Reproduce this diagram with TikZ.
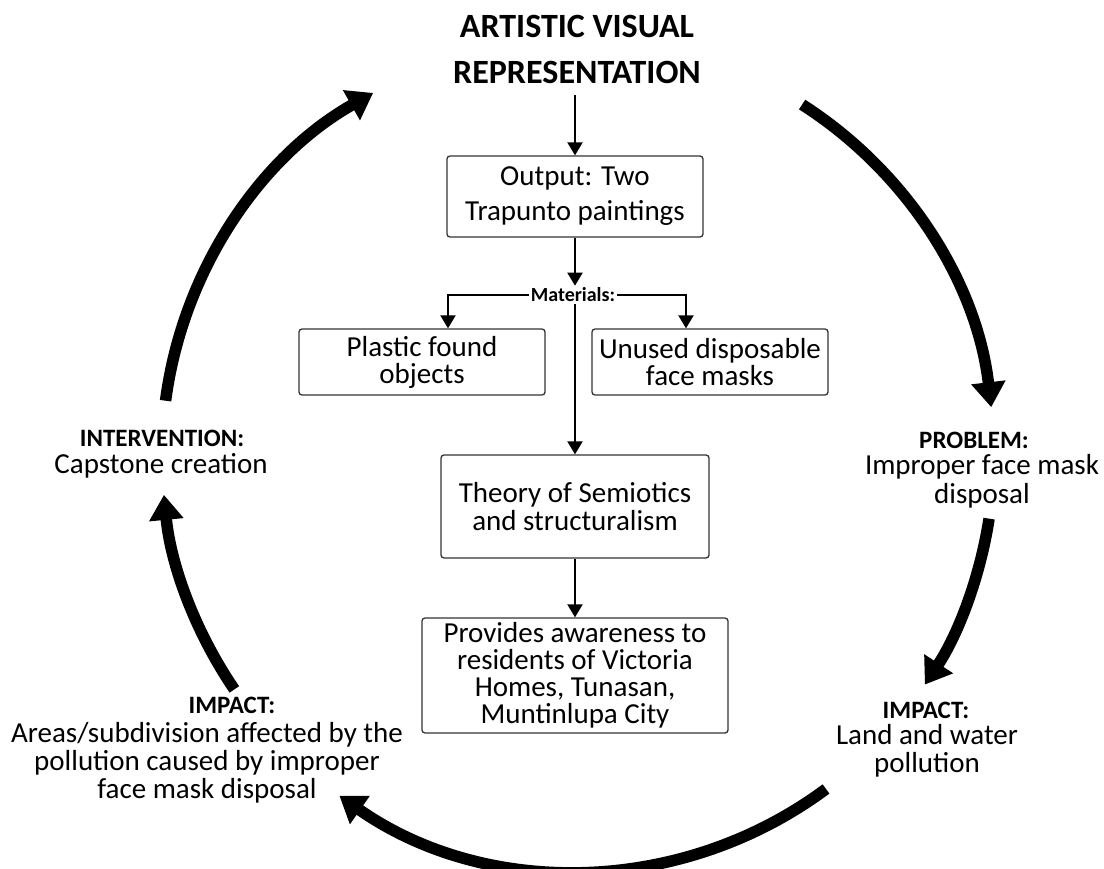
\documentclass[tikz,border=0pt]{standalone}
\usepackage{fontspec}
\setmainfont{Carlito}
\usetikzlibrary{arrows.meta,calc}
\begin{document}
\begin{tikzpicture}[x=1pt,y=1pt,
  box/.style={draw=black!80, line width=1.3pt, rounded corners=3pt, align=center, inner sep=0pt},
  body/.style={font=\fontsize{29}{#1}\selectfont},
  body/.default=28,
  hdr/.style={font=\bfseries\fontsize{25}{28}\selectfont, inner sep=0pt},
  lbl/.style={align=center, inner sep=0pt},
  arr/.style={line width=2pt, -{Triangle[length=13pt,width=15pt]}},
  big/.style={line width=11.5pt, -{Triangle[length=25pt,width=33pt]}}
]
\useasboundingbox (0,0) rectangle (1104,-869);
% title
\node[font=\bfseries\fontsize{34}{46}\selectfont, align=center, inner sep=0pt] (title) at (577,-49) {ARTISTIC VISUAL\\REPRESENTATION};
% central boxes
\node[box, body=35, minimum width=256pt, minimum height=81pt] (out) at (575,-196.5) {Output: Two\\Trapunto paintings};
\node[font=\bfseries\fontsize{20}{22}\selectfont, inner sep=2pt] (mat) at (573,-295) {Materials:};
\node[box, body=27, minimum width=246pt, minimum height=66pt] (plas) at (422,-362) {Plastic found\\objects};
\node[box, body=27, minimum width=236pt, minimum height=66pt] (uns) at (710,-362) {Unused disposable\\face masks};
\node[box, body=28, minimum width=268pt, minimum height=103pt] (theo) at (575,-506.5) {Theory of Semiotics\\and structuralism};
\node[box, body=27, minimum width=306pt, minimum height=115pt] (prov) at (575,-675.5) {Provides awareness to\\residents of Victoria\\Homes, Tunasan,\\Muntinlupa City};
% outer labels
\node[hdr] (ih) at (162,-438) {INTERVENTION:};
\node[lbl, body=28] (ib) at (161,-466) {Capstone creation};
\node[hdr] (ph) at (974,-440) {PROBLEM:};
\node[lbl, body=29] (pb) at (982,-481) {Improper face mask\\disposal};
\node[hdr] (rh) at (926,-710) {IMPACT:};
\node[lbl, body=28] (rb) at (927,-751) {Land and water\\pollution};
\node[hdr] (lh) at (232,-705) {IMPACT:};
\node[lbl, body=28] (lb) at (207,-763) {Areas/subdivision affected by the\\pollution caused by improper\\face mask disposal};
% central connectors
\coordinate (t0) at (575,-95);
\draw[arr] (t0) -- (out.north);
\draw[arr] (out.south) -- (mat.north -| out.south);
\draw[arr] (mat.west) -| ([xshift=26pt]plas.north);
\draw[arr] (mat.east) -| ([xshift=-24pt]uns.north);
\draw[arr] (mat.south -| theo.north) -- (theo.north);
\draw[arr] (theo.south) -- (prov.north);
% cycle arrows
\coordinate (C) at (578,-455);
\draw[big] ($(C)+(172.5:416pt)$) arc[start angle=172.5, end angle=119.5, radius=416pt];
\draw[big] ($(C)+(57.4:416pt)$) arc[start angle=57.4, end angle=6.6, radius=416pt];
\draw[big] ($(C)+(-8.8:416pt)$) arc[start angle=-8.8, end angle=-33.5, radius=416pt];
\draw[big] ($(C)+(-53.4:416pt)$) arc[start angle=-53.4, end angle=-125, radius=416pt];
\draw[big] ($(C)+(-145.7:416pt)$) arc[start angle=-145.7, end angle=-174.5, radius=416pt];
\end{tikzpicture}
\end{document}
